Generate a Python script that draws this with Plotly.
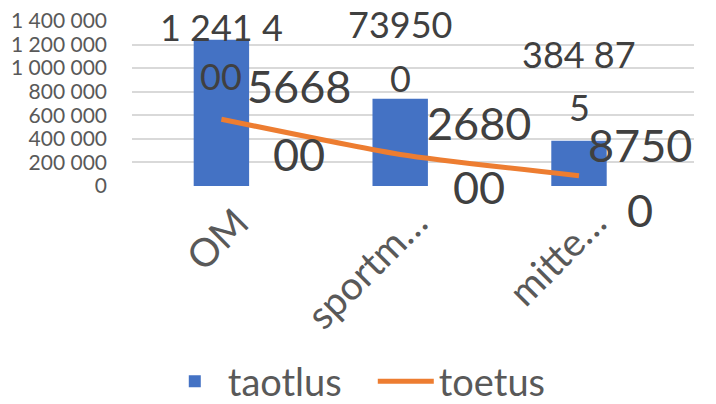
import plotly.graph_objects as go

# ---- data ----
categories = ["OM", "sportm…", "mitte…"]
taotlus = [1241400, 739500, 384875]
toetus = [566800, 268000, 87500]
# data labels as shown (wrapped the way the source chart wraps them)
taotlus_labels = [["1 241 4", "00"], ["73950", "0"], ["384 87", "5"]]
toetus_labels = [["5668", "00"], ["2680", "00"], ["8750", "0"]]

FONT = "Lato, 'Open Sans', sans-serif"
LABEL_COLOR = "#404040"
AXIS_COLOR = "#595959"

fig = go.Figure()
fig.add_bar(x=categories, y=taotlus, name="taotlus",
            marker=dict(color="#4472C4", line=dict(width=0)))
fig.add_scatter(x=categories, y=toetus, name="toetus", mode="lines",
                line=dict(color="#ED7D31", width=5, shape="spline", smoothing=0.6))

# label placement (pixel offsets relative to the data point)
bar_shifts = [(13, -36), (74.5, 20.5), (86.5, 33.5)]
line_shifts = [(78, 33, -34.5), (79, 31, -33), (61, 31, -34)]

annotations = []
for cat, val, lines, (s1, s2) in zip(categories, taotlus, taotlus_labels, bar_shifts):
    for txt, ys in zip(lines, (s1, s2)):
        annotations.append(dict(x=cat, y=val, xref="x", yref="y", text=txt,
                                showarrow=False, xanchor="center", yanchor="middle",
                                yshift=ys, font=dict(family=FONT, size=36, color=LABEL_COLOR)))
for cat, val, lines, (xs, s1, s2) in zip(categories, toetus, toetus_labels, line_shifts):
    for txt, ys in zip(lines, (s1, s2)):
        annotations.append(dict(x=cat, y=val, xref="x", yref="y", text=txt,
                                showarrow=False, xanchor="center", yanchor="middle",
                                xshift=xs, yshift=ys,
                                font=dict(family=FONT, size=45, color=LABEL_COLOR)))

fig.update_layout(
    width=716, height=404,
    margin=dict(l=132, r=22, t=21, b=218, autoexpand=False),
    paper_bgcolor="white", plot_bgcolor="white",
    separators=", ",
    bargap=0.69,
    font=dict(family=FONT, color=AXIS_COLOR),
    annotations=annotations,
    showlegend=True,
    legend=dict(orientation="h", x=0.053, xanchor="left", y=-1.185, yanchor="middle",
                font=dict(family=FONT, size=38, color=AXIS_COLOR),
                itemwidth=56, entrywidth=140, bgcolor="rgba(0,0,0,0)"),
    xaxis=dict(showgrid=False, showline=False, zeroline=False, ticks="",
               automargin=False, tickangle=-45, ticklabelstandoff=5, ticklabelshift=16,
               tickfont=dict(family=FONT, size=39, color=AXIS_COLOR)),
    yaxis=dict(range=[0, 1400000], dtick=200000, tickformat=",d", automargin=False,
               showgrid=True, gridcolor="#d9d9d9", gridwidth=1.5,
               zeroline=False, showline=False, ticks="", ticklabelstandoff=24,
               tickfont=dict(family=FONT, size=21, color=AXIS_COLOR)),
)

fig.write_html("out.html", config={"displayModeBar": False},
               post_script="document.body.style.margin='0';")
